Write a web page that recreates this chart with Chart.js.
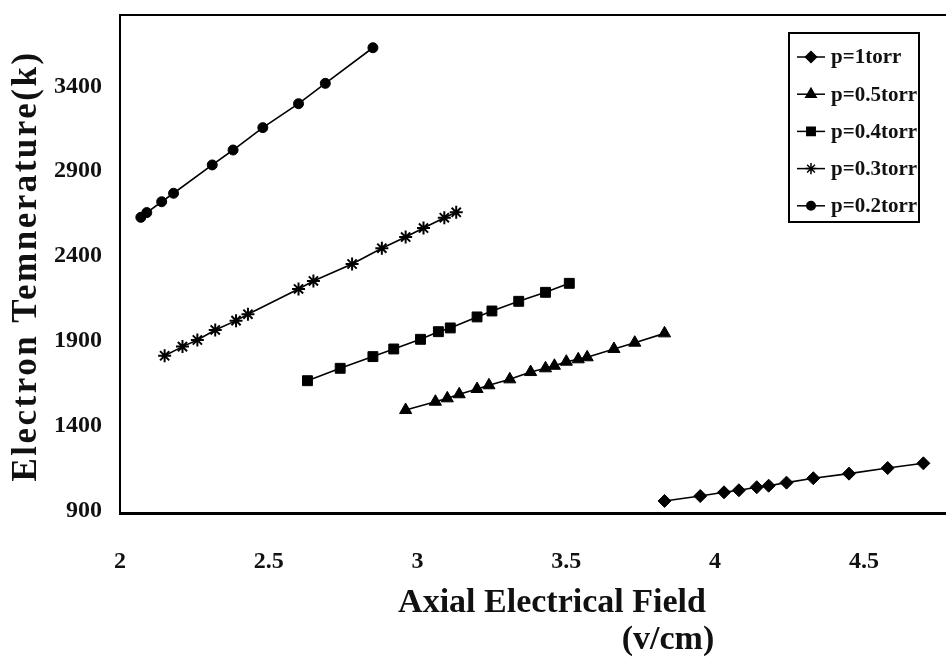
<!DOCTYPE html>
<html lang="en">
<head>
<meta charset="UTF-8">
<title>Electron Temperature vs Axial Electrical Field</title>
<script src="https://cdn.jsdelivr.net/npm/chart.js"></script>
<style>
  body { margin: 0; background: #fff; }
  .wrap { width: 946px; height: 657px; position: relative; }
</style>
</head>
<body>
<div class="wrap"><canvas id="chart"></canvas></div>
<script>
// values: axial field (v/cm) and electron temperature (K)
const fieldP1  = [3.83, 3.95, 4.03, 4.08, 4.14, 4.18, 4.24, 4.33, 4.45, 4.58, 4.70];
const tempP1   = [956, 985, 1007, 1019, 1037, 1046, 1064, 1090, 1117, 1150, 1178];

const fieldP05 = [2.96, 3.06, 3.10, 3.14, 3.20, 3.24, 3.31, 3.38, 3.43, 3.46, 3.50, 3.54, 3.57, 3.66, 3.73, 3.83];
const tempP05  = [1492, 1541, 1561, 1585, 1616, 1638, 1673, 1716, 1738, 1753, 1777, 1791, 1803, 1852, 1889, 1944];

const fieldP04 = [2.63, 2.74, 2.85, 2.92, 3.01, 3.07, 3.11, 3.20, 3.25, 3.34, 3.43, 3.51];
const tempP04  = [1665, 1738, 1807, 1852, 1909, 1954, 1976, 2041, 2076, 2133, 2186, 2239];

const fieldP03 = [2.15, 2.21, 2.26, 2.32, 2.39, 2.43, 2.60, 2.65, 2.78, 2.88, 2.96, 3.02, 3.09, 3.13];
const tempP03  = [1812, 1866, 1905, 1964, 2019, 2057, 2206, 2253, 2353, 2446, 2512, 2565, 2626, 2658];

const fieldP02 = [2.07, 2.09, 2.14, 2.18, 2.31, 2.38, 2.48, 2.60, 2.69, 2.85];
const tempP02  = [2628, 2656, 2720, 2770, 2937, 3025, 3157, 3298, 3418, 3628];

const seriesNames  = ["p=1torr", "p=0.5torr", "p=0.4torr", "p=0.3torr", "p=0.2torr"];
const seriesMarks  = ["rectRot", "triangle", "rect", "star", "circle"];
const markerSizes  = [6.5, 7, 7, 6.5, 5];

const xTicks = [2, 2.5, 3, 3.5, 4, 4.5];
const yTicks = [900, 1400, 1900, 2400, 2900, 3400];

const serif = "'Liberation Serif', 'Times New Roman', serif";

function pairs(xs, ys) {
    return xs.map((x, i) => ({ x: x, y: ys[i] }));
}

const allFields = [fieldP1, fieldP05, fieldP04, fieldP03, fieldP02];
const allTemps  = [tempP1, tempP05, tempP04, tempP03, tempP02];

const datasets = seriesNames.map((name, i) => ({
    label: name,
    data: pairs(allFields[i], allTemps[i]),
    showLine: true,
    borderColor: '#000',
    backgroundColor: '#000',
    borderWidth: 1.6,
    pointStyle: seriesMarks[i],
    pointRadius: markerSizes[i],
    pointBorderWidth: seriesMarks[i] === 'star' ? 2 : 1,
    pointBackgroundColor: '#000',
    pointBorderColor: '#000'
}));

// top edge of the plot frame plus the axis titles
const framePlugin = {
    id: 'frame',
    afterDraw(chart) {
        const { ctx, chartArea: a } = chart;
        ctx.save();
        ctx.strokeStyle = '#000';
        ctx.lineWidth = 2;
        ctx.beginPath();
        ctx.moveTo(a.left, a.top);
        ctx.lineTo(a.right, a.top);
        ctx.stroke();

        ctx.fillStyle = '#111';
        ctx.font = 'bold 34px ' + serif;
        ctx.textAlign = 'center';
        ctx.textBaseline = 'middle';
        ctx.fillText('Axial Electrical Field', 552, 603);
        ctx.fillText('(v/cm)', 668, 640);

        ctx.font = 'bold 35px ' + serif;
        ctx.letterSpacing = '2.5px';
        ctx.translate(27, 266);
        ctx.rotate(-Math.PI / 2);
        ctx.fillText('Electron Temnerature(k)', 0, 0);
        ctx.restore();
    }
};

// boxed legend with a short line through each marker
const legendPlugin = {
    id: 'boxLegend',
    afterDraw(chart) {
        const ctx = chart.ctx;
        const box = { left: 789, top: 33, right: 919, bottom: 222 };
        ctx.save();
        ctx.fillStyle = '#fff';
        ctx.fillRect(box.left, box.top, box.right - box.left, box.bottom - box.top);
        ctx.strokeStyle = '#000';
        ctx.lineWidth = 2;
        ctx.strokeRect(box.left, box.top, box.right - box.left, box.bottom - box.top);

        chart.data.datasets.forEach((ds, i) => {
            const y = 57 + i * 37.2;
            ctx.strokeStyle = '#000';
            ctx.lineWidth = 1.5;
            ctx.beginPath();
            ctx.moveTo(797, y);
            ctx.lineTo(825, y);
            ctx.stroke();
            ctx.fillStyle = '#000';
            Chart.helpers.drawPoint(ctx, {
                pointStyle: ds.pointStyle,
                radius: ds.pointRadius * 0.85,
                borderWidth: ds.pointBorderWidth,
                rotation: 0
            }, 811, y);
            ctx.fillStyle = '#111';
            ctx.font = 'bold 21px ' + serif;
            ctx.textAlign = 'left';
            ctx.textBaseline = 'middle';
            ctx.fillText(ds.label, 831, y + 1);
        });
        ctx.restore();
    }
};

new Chart(document.getElementById('chart'), {
    type: 'scatter',
    data: { datasets: datasets },
    plugins: [framePlugin, legendPlugin],
    options: {
        responsive: true,
        maintainAspectRatio: false,
        animation: false,
        layout: { autoPadding: false, padding: { top: 15, right: 0, bottom: 0, left: 0 } },
        plugins: {
            legend: { display: false },
            tooltip: { enabled: false }
        },
        scales: {
            x: {
                type: 'linear',
                min: 2,
                max: 4.776,
                afterBuildTicks: (scale) => { scale.ticks = xTicks.map(v => ({ value: v })); },
                afterFit: (scale) => {
                    scale.height = 144;
                    scale.paddingLeft = 0;
                    scale.paddingRight = 0;
                },
                grid: { display: false, drawTicks: false },
                border: { display: true, color: '#000', width: 3 },
                ticks: {
                    padding: 34,
                    color: '#111',
                    font: { family: serif, size: 24, weight: 'bold' },
                    maxRotation: 0,
                    callback: (v) => String(v)
                }
            },
            y: {
                type: 'linear',
                min: 885,
                max: 3821,
                afterBuildTicks: (scale) => { scale.ticks = yTicks.map(v => ({ value: v })); },
                afterFit: (scale) => {
                    scale.width = 120;
                    scale.paddingTop = 0;
                    scale.paddingBottom = 0;
                },
                grid: { display: false, drawTicks: false },
                border: { display: true, color: '#000', width: 2 },
                ticks: {
                    padding: 18,
                    color: '#111',
                    font: { family: serif, size: 24, weight: 'bold' },
                    callback: (v) => String(v)
                }
            }
        }
    }
});
</script>
</body>
</html>
